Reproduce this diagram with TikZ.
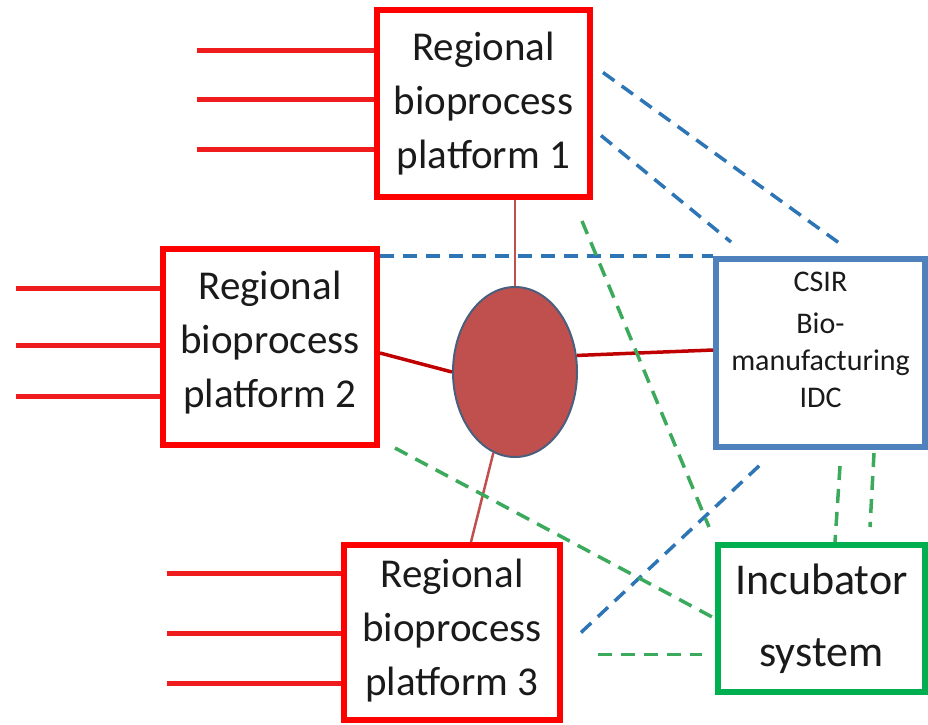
\documentclass[tikz,border=0pt]{standalone}
\usepackage{fontspec}
\setmainfont{Carlito}
\usetikzlibrary{calc,shapes.geometric}
\definecolor{boxred}{HTML}{FF0000}
\definecolor{stubred}{HTML}{EE1C1C}
\definecolor{idcblue}{HTML}{4F81BD}
\definecolor{incgreen}{HTML}{00B050}
\definecolor{dashblue}{HTML}{2E75B6}
\definecolor{dashgreen}{HTML}{3BAA5C}
\definecolor{hubfill}{HTML}{C0504D}
\definecolor{hubline}{HTML}{4A5E7E}
\definecolor{linkred}{HTML}{C0504D}
\definecolor{linkdark}{HTML}{C00000}
\definecolor{txt}{HTML}{1A1A1A}
\tikzset{
  regbox/.style={draw=boxred,line width=6pt,rectangle,inner sep=0pt},
  idcbox/.style={draw=idcblue,line width=6pt,rectangle,inner sep=0pt},
  incbox/.style={draw=incgreen,line width=6pt,rectangle,inner sep=0pt},
  hubshape/.style={ellipse,fill=hubfill,draw=hubline,line width=2pt,inner sep=0pt,minimum width=124pt,minimum height=170pt},
  boxtxt/.style={align=center,font=\fontsize{41}{54}\selectfont,text=txt,inner sep=0pt},
  idctxt/.style={align=center,font=\fontsize{30}{37}\selectfont,text=txt,inner sep=0pt},
  inctxt/.style={align=center,font=\fontsize{44}{44}\selectfont,text=txt,inner sep=0pt},
  stub/.style={draw=stubred,line width=5pt},
  thinlink/.style={draw=linkred,line width=2.5pt},
  thicklink/.style={draw=linkdark,line width=3.5pt},
  bdash/.style={draw=dashblue,line width=3.5pt,dash pattern=on 14pt off 9pt},
  gdash/.style={draw=dashgreen,line width=3.5pt,dash pattern=on 14pt off 9pt}
}
\begin{document}
\begin{tikzpicture}[x=1pt,y=-1pt]
\useasboundingbox (0,0) rectangle (928,724);
% boxes
\node[regbox,minimum width=213pt,minimum height=187pt] (b1) at (483.5,103.5) {};
\node[regbox,minimum width=214pt,minimum height=196pt] (b2) at (270,347) {};
\node[regbox,minimum width=216pt,minimum height=175pt] (b3) at (452,632.5) {};
\node[idcbox,minimum width=209pt,minimum height=188pt] (csir) at (820.5,353) {};
\node[incbox,minimum width=207pt,minimum height=147pt] (inc) at (821.5,618.5) {};
\node[hubshape] (hub) at (515,372) {};
% texts
\node[boxtxt] (t1) at (483.5,104) {Regional\\bioprocess\\platform 1};
\node[boxtxt] (t2) at (270,343) {Regional\\bioprocess\\platform 2};
\node[boxtxt] (t3) at (452,631) {Regional\\bioprocess\\platform 3};
\node[idctxt] (tc) at (820.5,340) {CSIR\\[5pt]Bio-\\manufacturing\\IDC};
\node[inctxt] (ti) at (821.5,619) {Incubator\\[28pt]system};
% stubs
\foreach \n/\y in {a/50,b/99,c/149} {
  \coordinate (s1\n) at (197,\y);
  \draw[stub] (s1\n) -- (s1\n -| b1.west);
}
\foreach \n/\y in {a/288,b/345,c/396} {
  \coordinate (s2\n) at (16,\y);
  \draw[stub] (s2\n) -- (s2\n -| b2.west);
}
\foreach \n/\y in {a/573,b/633,c/683} {
  \coordinate (s3\n) at (167,\y);
  \draw[stub] (s3\n) -- (s3\n -| b3.west);
}
% red links to hub
\draw[thinlink] (b1.south -| hub.north) -- (hub.north);
\draw[thicklink] ($(b2.east)+(0,6)$) -- (hub.west);
\draw[thicklink] (hub.15) -- ($(csir.west)+(0,-3)$);
\draw[thinlink] (hub.-105) -- ($(b3.north)+(19,0)$);
% blue dashed
\draw[bdash] ($(b1.east)+(10,-31)$) -- ($(csir.north)+(20,-12)$);
\draw[bdash] ($(b1.east)+(8,32)$) -- ($(csir.north west)+(18,-14)$);
\draw[bdash] (b2.north east |- csir.north west) -- (csir.north west);
\draw[bdash] ($(b3.east)+(18,0)$) -- ($(csir.south west)+(47,15)$);
% green dashed
\draw[gdash] ($(b1.south east)+(-11,21)$) -- ($(inc.north west)+(-6,-15)$);
\draw[gdash] ($(b2.south east)+(15,0)$) -- (inc.west);
\coordinate (g3s) at ($(b3.east)+(35,22)$);
\draw[gdash] (g3s) -- ($(g3s -| inc.west)+(-13,0)$);
\draw[gdash] ($(csir.south west)+(127,16)$) -- ($(inc.north west)+(120,0)$);
\draw[gdash] ($(csir.south west)+(161,3)$) -- ($(inc.north west)+(155,-15)$);
\end{tikzpicture}
\end{document}
